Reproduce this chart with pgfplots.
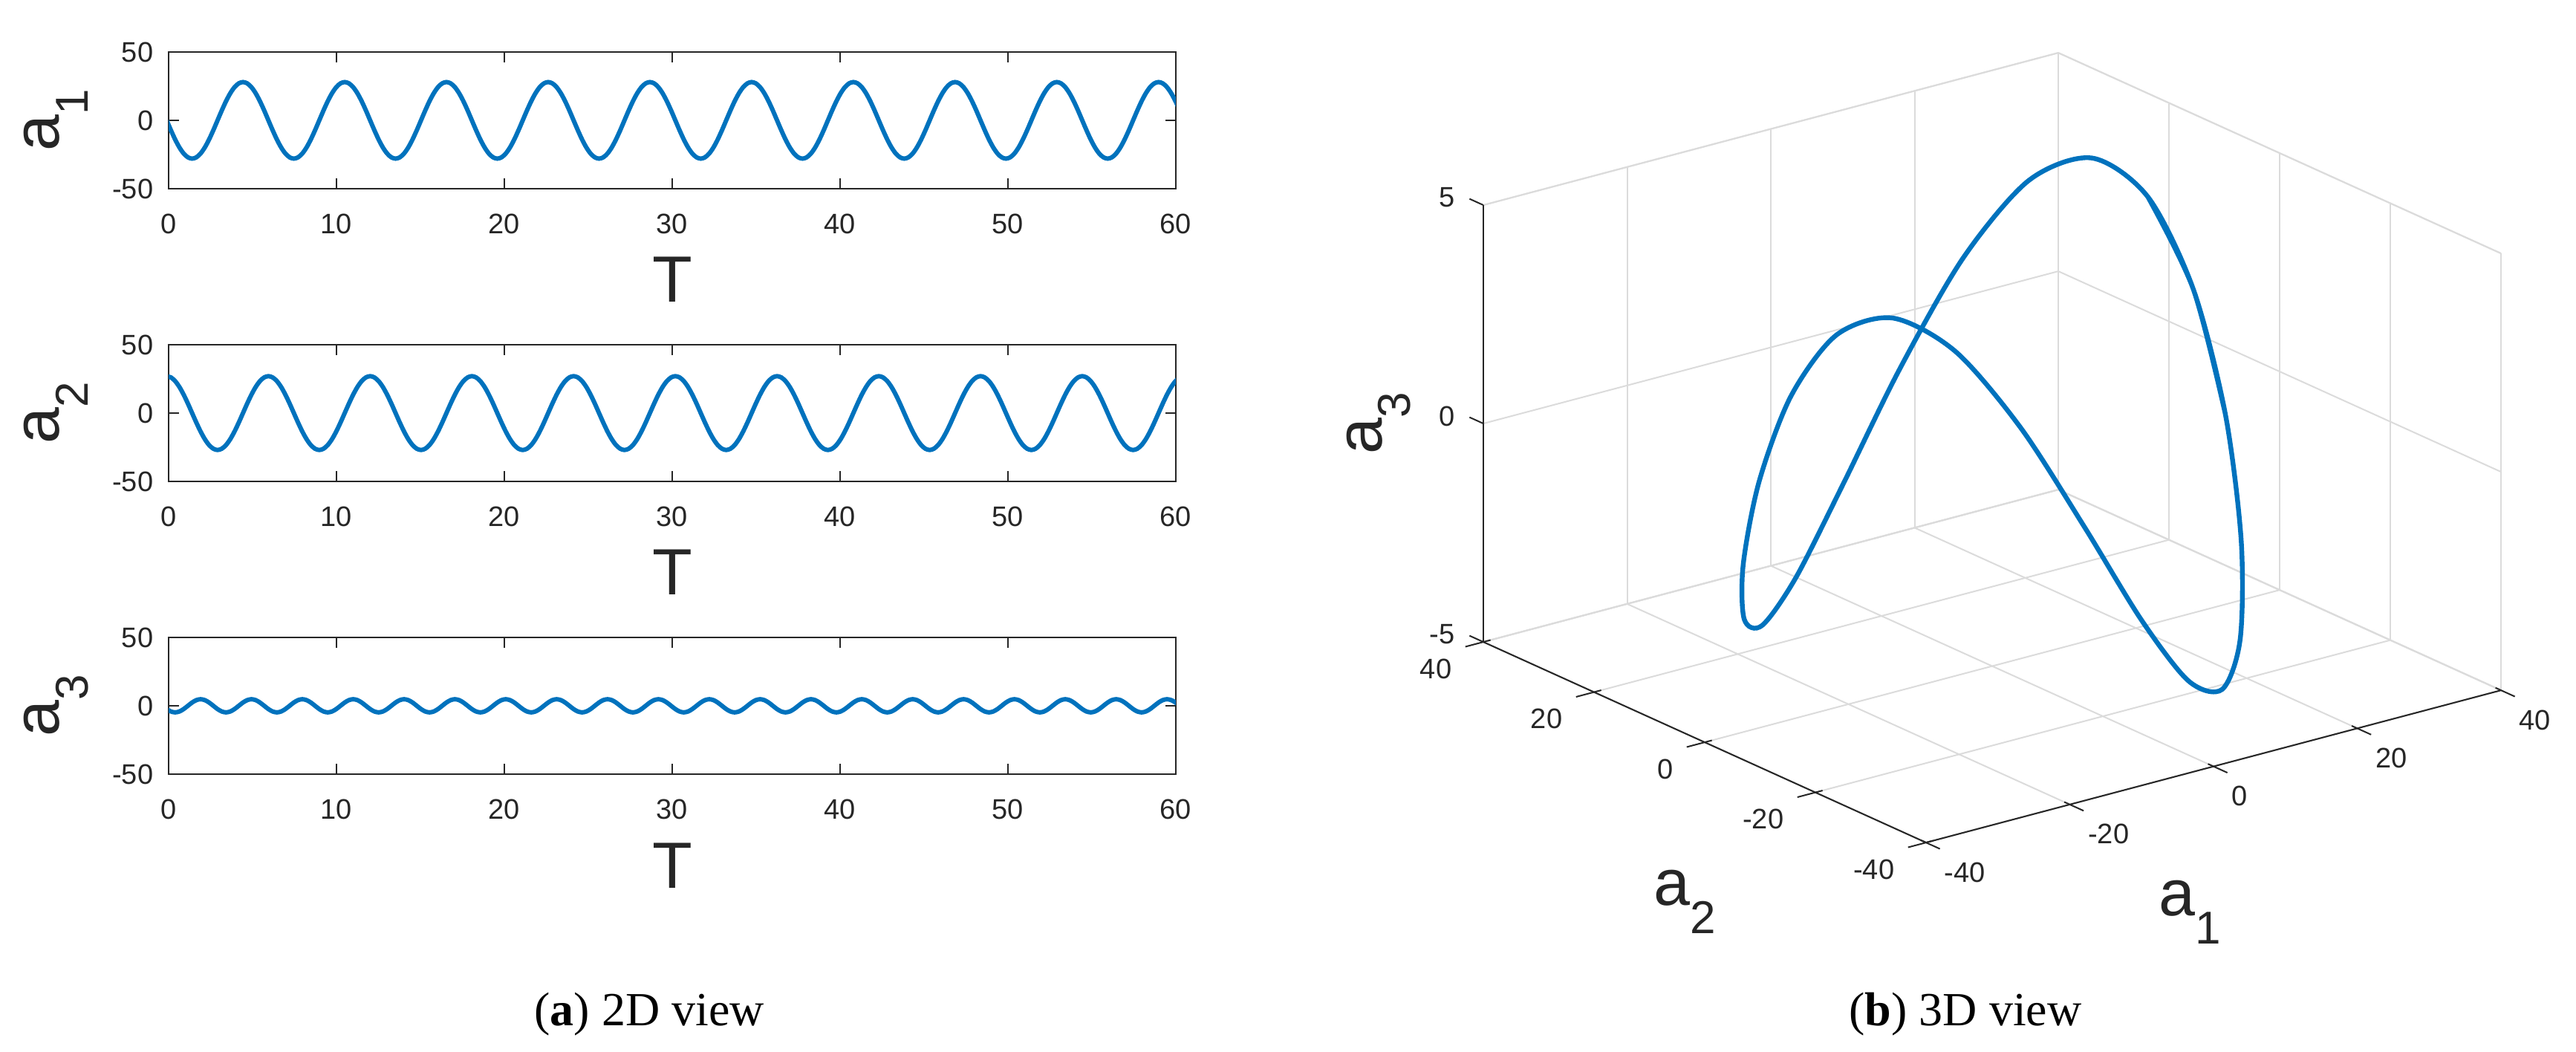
\documentclass[border=0pt]{standalone}
\usepackage{fontspec}
\setmainfont{Liberation Sans}
\newfontfamily\capfont{Liberation Serif}
\usepackage{pgfplots}
\usepackage{pgfplotstable}
\pgfplotsset{compat=1.18}
\definecolor{mblue}{HTML}{0072BD}
\definecolor{axc}{HTML}{262626}

\pgfplotstableread{
t a1 a2 a3
-0.115 0 27 -2.4
0.138 -7.25 26.08 -4.16
0.390 -14 23.38 -4.8
0.643 -19.8 19.09 -4.16
0.895 -24.25 13.5 -2.4
1.148 -27.05 6.99 0
1.400 -28 0 2.4
1.653 -27.05 -6.99 4.16
1.905 -24.25 -13.5 4.8
2.158 -19.8 -19.09 4.16
2.410 -14 -23.38 2.4
2.663 -7.25 -26.08 0
2.915 0 -27 -2.4
3.168 7.25 -26.08 -4.16
3.420 14 -23.38 -4.8
3.673 19.8 -19.09 -4.16
3.925 24.25 -13.5 -2.4
4.178 27.05 -6.99 0
4.430 28 0 2.4
4.683 27.05 6.99 4.16
4.935 24.25 13.5 4.8
5.188 19.8 19.09 4.16
5.440 14 23.38 2.4
5.693 7.25 26.08 0
5.945 0 27 -2.4
6.198 -7.25 26.08 -4.16
6.450 -14 23.38 -4.8
6.703 -19.8 19.09 -4.16
6.955 -24.25 13.5 -2.4
7.208 -27.05 6.99 0
7.460 -28 0 2.4
7.713 -27.05 -6.99 4.16
7.965 -24.25 -13.5 4.8
8.218 -19.8 -19.09 4.16
8.470 -14 -23.38 2.4
8.723 -7.25 -26.08 0
8.975 0 -27 -2.4
9.228 7.25 -26.08 -4.16
9.480 14 -23.38 -4.8
9.733 19.8 -19.09 -4.16
9.985 24.25 -13.5 -2.4
10.238 27.05 -6.99 0
10.490 28 0 2.4
10.743 27.05 6.99 4.16
10.995 24.25 13.5 4.8
11.248 19.8 19.09 4.16
11.500 14 23.38 2.4
11.753 7.25 26.08 0
12.005 0 27 -2.4
12.258 -7.25 26.08 -4.16
12.510 -14 23.38 -4.8
12.763 -19.8 19.09 -4.16
13.015 -24.25 13.5 -2.4
13.268 -27.05 6.99 0
13.520 -28 0 2.4
13.773 -27.05 -6.99 4.16
14.025 -24.25 -13.5 4.8
14.278 -19.8 -19.09 4.16
14.530 -14 -23.38 2.4
14.783 -7.25 -26.08 0
15.035 0 -27 -2.4
15.288 7.25 -26.08 -4.16
15.540 14 -23.38 -4.8
15.793 19.8 -19.09 -4.16
16.045 24.25 -13.5 -2.4
16.298 27.05 -6.99 0
16.550 28 0 2.4
16.803 27.05 6.99 4.16
17.055 24.25 13.5 4.8
17.308 19.8 19.09 4.16
17.560 14 23.38 2.4
17.813 7.25 26.08 0
18.065 0 27 -2.4
18.318 -7.25 26.08 -4.16
18.570 -14 23.38 -4.8
18.823 -19.8 19.09 -4.16
19.075 -24.25 13.5 -2.4
19.328 -27.05 6.99 0
19.580 -28 0 2.4
19.833 -27.05 -6.99 4.16
20.085 -24.25 -13.5 4.8
20.338 -19.8 -19.09 4.16
20.590 -14 -23.38 2.4
20.843 -7.25 -26.08 0
21.095 0 -27 -2.4
21.348 7.25 -26.08 -4.16
21.600 14 -23.38 -4.8
21.853 19.8 -19.09 -4.16
22.105 24.25 -13.5 -2.4
22.358 27.05 -6.99 0
22.610 28 0 2.4
22.863 27.05 6.99 4.16
23.115 24.25 13.5 4.8
23.368 19.8 19.09 4.16
23.620 14 23.38 2.4
23.873 7.25 26.08 0
24.125 0 27 -2.4
24.378 -7.25 26.08 -4.16
24.630 -14 23.38 -4.8
24.883 -19.8 19.09 -4.16
25.135 -24.25 13.5 -2.4
25.388 -27.05 6.99 0
25.640 -28 0 2.4
25.893 -27.05 -6.99 4.16
26.145 -24.25 -13.5 4.8
26.398 -19.8 -19.09 4.16
26.650 -14 -23.38 2.4
26.903 -7.25 -26.08 0
27.155 0 -27 -2.4
27.408 7.25 -26.08 -4.16
27.660 14 -23.38 -4.8
27.913 19.8 -19.09 -4.16
28.165 24.25 -13.5 -2.4
28.418 27.05 -6.99 0
28.670 28 0 2.4
28.923 27.05 6.99 4.16
29.175 24.25 13.5 4.8
29.428 19.8 19.09 4.16
29.680 14 23.38 2.4
29.933 7.25 26.08 0
30.185 0 27 -2.4
30.438 -7.25 26.08 -4.16
30.690 -14 23.38 -4.8
30.943 -19.8 19.09 -4.16
31.195 -24.25 13.5 -2.4
31.448 -27.05 6.99 0
31.700 -28 0 2.4
31.953 -27.05 -6.99 4.16
32.205 -24.25 -13.5 4.8
32.458 -19.8 -19.09 4.16
32.710 -14 -23.38 2.4
32.963 -7.25 -26.08 0
33.215 0 -27 -2.4
33.468 7.25 -26.08 -4.16
33.720 14 -23.38 -4.8
33.973 19.8 -19.09 -4.16
34.225 24.25 -13.5 -2.4
34.478 27.05 -6.99 0
34.730 28 0 2.4
34.983 27.05 6.99 4.16
35.235 24.25 13.5 4.8
35.488 19.8 19.09 4.16
35.740 14 23.38 2.4
35.993 7.25 26.08 0
36.245 0 27 -2.4
36.498 -7.25 26.08 -4.16
36.750 -14 23.38 -4.8
37.003 -19.8 19.09 -4.16
37.255 -24.25 13.5 -2.4
37.508 -27.05 6.99 0
37.760 -28 0 2.4
38.013 -27.05 -6.99 4.16
38.265 -24.25 -13.5 4.8
38.518 -19.8 -19.09 4.16
38.770 -14 -23.38 2.4
39.023 -7.25 -26.08 0
39.275 0 -27 -2.4
39.528 7.25 -26.08 -4.16
39.780 14 -23.38 -4.8
40.033 19.8 -19.09 -4.16
40.285 24.25 -13.5 -2.4
40.538 27.05 -6.99 0
40.790 28 0 2.4
41.043 27.05 6.99 4.16
41.295 24.25 13.5 4.8
41.548 19.8 19.09 4.16
41.800 14 23.38 2.4
42.053 7.25 26.08 0
42.305 0 27 -2.4
42.558 -7.25 26.08 -4.16
42.810 -14 23.38 -4.8
43.063 -19.8 19.09 -4.16
43.315 -24.25 13.5 -2.4
43.568 -27.05 6.99 0
43.820 -28 0 2.4
44.073 -27.05 -6.99 4.16
44.325 -24.25 -13.5 4.8
44.578 -19.8 -19.09 4.16
44.830 -14 -23.38 2.4
45.083 -7.25 -26.08 0
45.335 0 -27 -2.4
45.588 7.25 -26.08 -4.16
45.840 14 -23.38 -4.8
46.093 19.8 -19.09 -4.16
46.345 24.25 -13.5 -2.4
46.598 27.05 -6.99 0
46.850 28 0 2.4
47.103 27.05 6.99 4.16
47.355 24.25 13.5 4.8
47.608 19.8 19.09 4.16
47.860 14 23.38 2.4
48.113 7.25 26.08 0
48.365 0 27 -2.4
48.618 -7.25 26.08 -4.16
48.870 -14 23.38 -4.8
49.123 -19.8 19.09 -4.16
49.375 -24.25 13.5 -2.4
49.628 -27.05 6.99 0
49.880 -28 0 2.4
50.133 -27.05 -6.99 4.16
50.385 -24.25 -13.5 4.8
50.638 -19.8 -19.09 4.16
50.890 -14 -23.38 2.4
51.143 -7.25 -26.08 0
51.395 0 -27 -2.4
51.648 7.25 -26.08 -4.16
51.900 14 -23.38 -4.8
52.153 19.8 -19.09 -4.16
52.405 24.25 -13.5 -2.4
52.658 27.05 -6.99 0
52.910 28 0 2.4
53.163 27.05 6.99 4.16
53.415 24.25 13.5 4.8
53.668 19.8 19.09 4.16
53.920 14 23.38 2.4
54.173 7.25 26.08 0
54.425 0 27 -2.4
54.678 -7.25 26.08 -4.16
54.930 -14 23.38 -4.8
55.183 -19.8 19.09 -4.16
55.435 -24.25 13.5 -2.4
55.688 -27.05 6.99 0
55.940 -28 0 2.4
56.193 -27.05 -6.99 4.16
56.445 -24.25 -13.5 4.8
56.698 -19.8 -19.09 4.16
56.950 -14 -23.38 2.4
57.203 -7.25 -26.08 0
57.455 0 -27 -2.4
57.708 7.25 -26.08 -4.16
57.960 14 -23.38 -4.8
58.213 19.8 -19.09 -4.16
58.465 24.25 -13.5 -2.4
58.718 27.05 -6.99 0
58.970 28 0 2.4
59.223 27.05 6.99 4.16
59.475 24.25 13.5 4.8
59.728 19.8 19.09 4.16
59.980 14 23.38 2.4
60.233 7.25 26.08 0
}\tsdata

\pgfplotstableread{
x y z
27.05 -6.99 0
28 0 2.4
27.05 6.99 4.16
24.25 13.5 4.8
19.8 19.09 4.16
14 23.38 2.4
7.25 26.08 0
0 27 -2.4
-7.25 26.08 -4.16
-14 23.38 -4.8
-19.8 19.09 -4.16
-24.25 13.5 -2.4
-27.05 6.99 0
-28 0 2.4
-27.05 -6.99 4.16
-24.25 -13.5 4.8
-19.8 -19.09 4.16
-14 -23.38 2.4
-7.25 -26.08 0
0 -27 -2.4
7.25 -26.08 -4.16
14 -23.38 -4.8
19.8 -19.09 -4.16
24.25 -13.5 -2.4
27.05 -6.99 0
28 0 2.4
27.05 6.99 4.16
}\loopdata

\newcommand{\tickfont}{\fontsize{9.5}{10}\selectfont}
\newcommand{\lab}[2]{{\fontsize{22}{22}\selectfont #1\raisebox{-9.5pt}{\fontsize{15.5}{15.5}\selectfont #2}}}

\pgfplotsset{
 twod/.style={
  scale only axis, width=339pt, height=46pt, anchor=south west,
  xmin=0, xmax=60, ymin=-50, ymax=50,
  xtick={0,10,20,30,40,50,60}, xticklabels={0,10,20,30,40,50,60},
  ytick={-50,0,50}, yticklabels={-50,0,50},
  tick align=inside, major tick length=3.5pt,
  axis line style={axc, line width=0.5pt},
  every tick/.style={axc, line width=0.5pt},
  tick label style={font=\tickfont, text=axc, inner sep=0pt},
  xticklabel style={anchor=north, yshift=-8.25pt},
  yticklabel style={anchor=east, xshift=-5pt},
 }
}

\begin{document}
\begin{tikzpicture}
\path[use as bounding box] (0,0) rectangle (867pt,353.75pt);

\begin{axis}[twod, at={(56.75pt,290.25pt)}]
\addplot[mblue, line width=1.5pt, smooth] table[x=t, y=a1] {\tsdata};
\end{axis}
\begin{axis}[twod, at={(56.75pt,191.75pt)}]
\addplot[mblue, line width=1.5pt, smooth] table[x=t, y=a2] {\tsdata};
\end{axis}
\begin{axis}[twod, at={(56.75pt,93.25pt)}]
\addplot[mblue, line width=1.5pt, smooth] table[x=t, y=a3] {\tsdata};
\end{axis}

\node[rotate=90, anchor=base, inner sep=0pt, text=axc] at (20pt,313.25pt) {\lab{a}{1}};
\node[rotate=90, anchor=base, inner sep=0pt, text=axc] at (20pt,214.75pt) {\lab{a}{2}};
\node[rotate=90, anchor=base, inner sep=0pt, text=axc] at (20pt,116.25pt) {\lab{a}{3}};
\node[anchor=base, inner sep=0pt, text=axc] at (226.25pt,252pt) {\fontsize{22}{22}\selectfont T};
\node[anchor=base, inner sep=0pt, text=axc] at (226.25pt,153.5pt) {\fontsize{22}{22}\selectfont T};
\node[anchor=base, inner sep=0pt, text=axc] at (226.25pt,55pt) {\fontsize{22}{22}\selectfont T};

\begin{axis}[
  at={(670.5pt,203.1pt)}, anchor=origin,
  x={(2.419pt,0.6406pt)}, y={(-1.8625pt,0.84375pt)}, z={(0pt,14.7pt)},
  xmin=-40, xmax=40, ymin=-40, ymax=40, zmin=-5, zmax=5,
  xtick={-40,-20,0,20,40}, xticklabels={-40,-20,0,20,40},
  ytick={-40,-20,0,20,40}, yticklabels={-40,-20,0,20,40},
  ztick={-5,0,5}, zticklabels={-5,0,5},
  grid=major, major grid style={gray!28, line width=0.5pt},
  axis line style={gray!28, line width=0.5pt},
  major tick length=0pt,
  tick label style={font=\tickfont, text=axc, inner sep=0pt},
  xticklabel style={anchor=west, xshift=6pt, yshift=-10pt},
  yticklabel style={anchor=east, xshift=-10.5pt, yshift=-9pt},
  zticklabel style={anchor=east, xshift=-9.5pt, yshift=2.5pt},
  clip=false,
]
\addplot3[mblue, line width=1.6pt, smooth] table {\loopdata};
\draw[axc, line width=0.5pt] (axis cs:-40,40,-5) -- (axis cs:-40,40,5);
\draw[axc, line width=0.5pt] (axis cs:-40,40,-5) -- (axis cs:-40,-40,-5);
\draw[axc, line width=0.5pt] (axis cs:-40,-40,-5) -- (axis cs:40,-40,-5);
\pgfplotsinvokeforeach{-40,-20,0,20,40}{
  \draw[axc, line width=0.5pt] (axis cs:#1,-39,-5) -- (axis cs:#1,-42.5,-5);
  \draw[axc, line width=0.5pt] (axis cs:-39,#1,-5) -- (axis cs:-42.5,#1,-5);
}
\pgfplotsinvokeforeach{-5,0,5}{
  \draw[axc, line width=0.5pt] (axis cs:-40,40,#1) -- (axis cs:-40,42.5,#1);
}
\end{axis}

\node[rotate=90, anchor=base, inner sep=0pt, text=axc] at (465pt,211.25pt) {\lab{a}{3}};
\node[anchor=base, inner sep=0pt, text=axc] at (567pt,49.25pt) {\lab{a}{2}};
\node[anchor=base, inner sep=0pt, text=axc] at (737pt,45.75pt) {\lab{a}{1}};

\node[anchor=base, inner sep=0pt] at (218.5pt,8.75pt) {\capfont\fontsize{16}{16}\selectfont (\textbf{a}) 2D view};
\node[anchor=base, inner sep=0pt] at (661.5pt,8.75pt) {\capfont\fontsize{16}{16}\selectfont (\textbf{b}) 3D view};
\end{tikzpicture}
\end{document}
